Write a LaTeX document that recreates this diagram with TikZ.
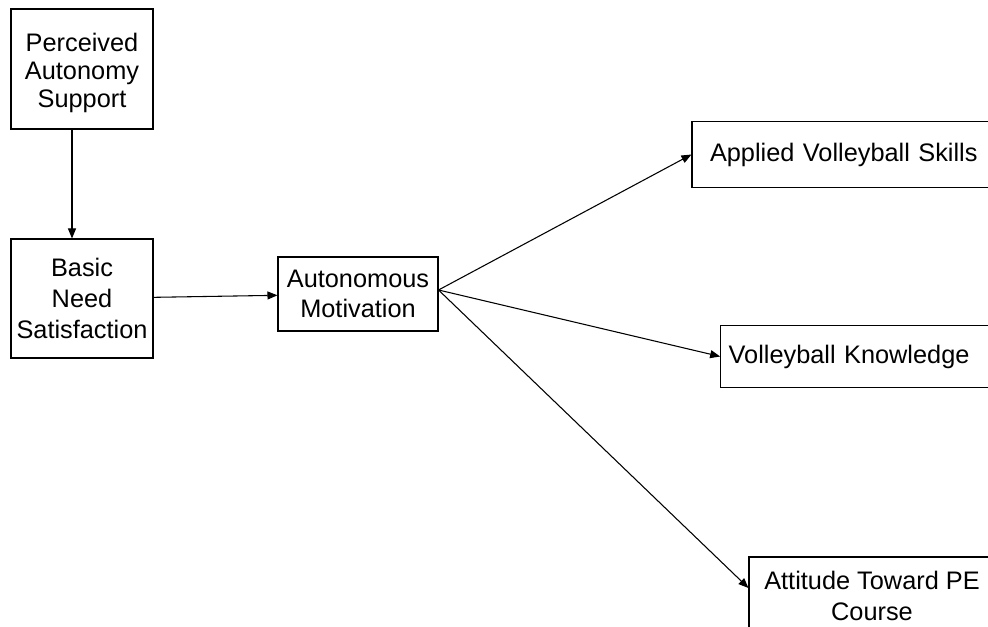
\documentclass[tikz,border=0pt]{standalone}
\usepackage{fontspec}
\setmainfont{Liberation Sans}
\usetikzlibrary{arrows.meta, positioning}

\begin{document}
\begin{tikzpicture}[
    x=0.75pt, y=-0.75pt,
    >={Triangle[length=7.5pt, width=6pt]},
    line width=0.8pt,
    varbox/.style={draw, align=center, inner sep=0pt, font=\fontsize{19}{23}\selectfont},
    leftbox/.style={varbox, align=left, inner ysep=0pt},
    link/.style={->, draw}
]
\useasboundingbox (0,0) rectangle (988,627);
\clip (0,0) rectangle (988,627);

% --- Left column ---
\node[varbox, font=\fontsize{19}{21}\selectfont, minimum width=106.5pt, minimum height=90pt] (pas) at (82,69) {\\[-2pt]Perceived\\Autonomy\\Support};
\node[varbox, minimum width=106.5pt, minimum height=89.25pt] (bns) at (82,298.5) {Basic\\Need\\Satisfaction};

% --- Mediator ---
\node[varbox, minimum width=120pt, minimum height=55.5pt] (am) at (358,294) {Autonomous\\Motivation};

% --- Outcomes (cut off at the right edge) ---
\node[leftbox, inner xsep=13.5pt, text width=210pt, minimum height=50pt] (avs) at (850,154.5) {Applied Volleyball Skills};
\node[leftbox, inner xsep=6pt, text width=200pt, minimum height=47pt] (vk) at (862,356.5) {Volleyball Knowledge};
\node[varbox, minimum width=184.5pt, minimum height=58.5pt] (atp) at (872,596) {Attitude Toward PE\\Course};

% --- Paths ---
\path
([xshift=-7.5pt]pas.south) edge[link] ([xshift=-7.5pt]bns.north)
(bns) edge[link] (am)
([yshift=3pt]am.east) edge[link] (avs.west)
([yshift=3pt]am.east) edge[link] (vk.west)
([yshift=3pt]am.east) edge[link] ([yshift=6pt]atp.west);

\end{tikzpicture}
\end{document}
